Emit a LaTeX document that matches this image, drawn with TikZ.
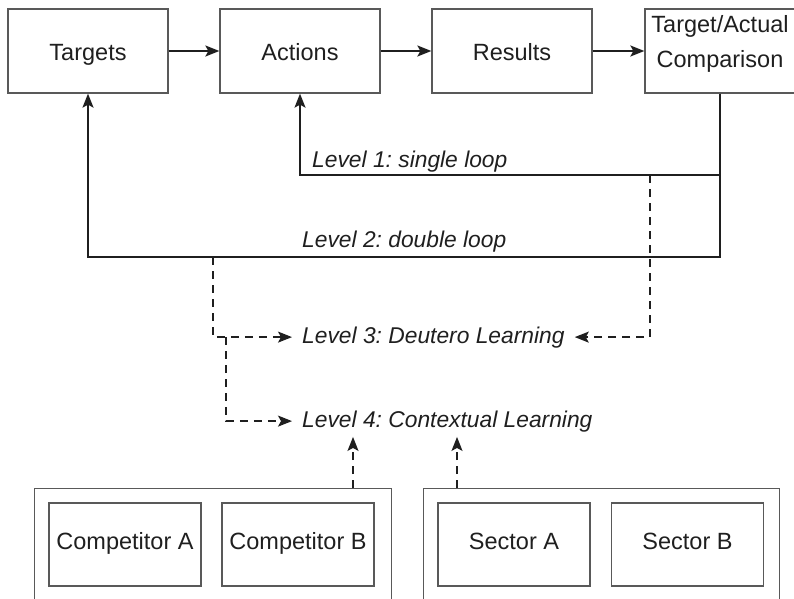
\documentclass[tikz,border=0pt]{standalone}
\usepackage{fontspec}
\setmainfont{Liberation Sans}
\usetikzlibrary{arrows.meta}
\frenchspacing

\begin{document}
\begin{tikzpicture}[x=1pt,y=-1pt]
        \tikzset{blk/.style={draw=black!65,line width=1.3pt,minimum width=160pt,minimum height=84pt,inner sep=0pt,align=center,font=\fontsize{23.5}{35}\selectfont,text=black!88,text height=19pt,text depth=0pt},
    env/.style={blk,minimum width=152pt,minimum height=83pt,text height=12pt,text depth=3pt},
    grp/.style={draw=black!65,line width=1.3pt,anchor=north west,minimum height=140pt,inner sep=0pt},
    lvl/.style={anchor=base west,inner xsep=10pt,inner ysep=5pt,font=\fontsize{22.8}{27}\selectfont\itshape,text=black!88},
    myptr/.style={draw=black!88,line width=1.6pt,-{Stealth[length=14pt,width=11pt,inset=3pt]}},
    dshptr/.style={myptr,dash pattern=on 8pt off 6pt}}
        \useasboundingbox (0,0) rectangle (794,598);
        % top row
        \node (Tgt) at (88,51)  [blk] {Targets};
        \node (Act) at (300,51) [blk] {Actions};
        \node (Res) at (512,51) [blk] {Results};
        \node (TA) at (720,51)  [blk,minimum width=150pt,text height=51.5pt,text depth=19.5pt] {Target/Actual\\Comparison};
        \draw [myptr] (Tgt) -- (Act);
        \draw [myptr] (Act) -- (Res);
        \draw [myptr] (Res) -- (TA);
        % feedback loops
        \coordinate (y1) at (0,175);
        \coordinate (y2) at (0,257);
        \draw [myptr] (TA.south) -- (TA.south |- y1) -| (Act.south);
        \draw [myptr] (TA.south) -- (TA.south |- y2) -| (Tgt.south);
        \node (L1) at (302,167) [lvl] {Level 1: single loop};
        \node (L2) at (292,247) [lvl] {Level 2: double loop};
        \node (L3) at (292,343) [lvl] {Level 3: Deutero Learning};
        \node (L4) at (292,427) [lvl] {Level 4: Contextual Learning};
        \coordinate (d1) at (650,175);
        \coordinate (d2) at (213,257);
        \coordinate (d3) at (226,337);
        \draw [dshptr] (d1) |- (L3.east);
        \draw [dshptr] (d2) |- (L3.west);
        \draw [dshptr] (d3) |- (L4.west);
        % environment
        \node (CmpGrp) at (34,488)  [grp,minimum width=357pt] {};
        \node (SecGrp) at (423,488) [grp,minimum width=356pt] {};
        \node (CmpA) at (125,544.5) [env] {Competitor A};
        \node (CmpB) at (298,544.5) [env] {Competitor B};
        \node (SecA) at (514,544.5) [env] {Sector A};
        \node (SecB) at (687.5,544.5) [env] {Sector B};
        \coordinate (c1) at (353,488);
        \coordinate (c2) at (457,488);
        \draw [dshptr] (c1) -- (c1 |- L4.south);
        \draw [dshptr] (c2) -- (c2 |- L4.south);
    \end{tikzpicture}
\end{document}
